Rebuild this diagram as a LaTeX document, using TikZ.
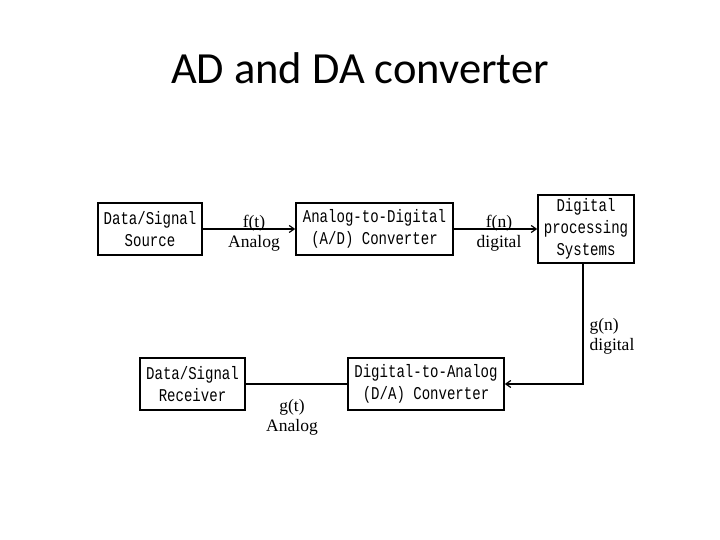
\documentclass[tikz,border=0pt]{standalone}
\usepackage{fontspec}
\setmainfont{Liberation Serif}
\newfontfamily\titlefont{Carlito}
\newfontfamily\boxfont[FakeStretch=0.78]{Liberation Mono}
\usetikzlibrary{arrows.meta}
\begin{document}
\begin{tikzpicture}[x=1pt,y=-1pt,
  blk/.style={draw,line width=1.6pt,inner sep=0pt,font=\boxfont\fontsize{18}{22}\selectfont,align=center},
  lbl/.style={font=\fontsize{17.5}{20}\selectfont,align=center,inner sep=0pt},
  conn/.style={line width=1.2pt},
  arr/.style={conn,-{Straight Barb[length=5pt,width=7pt]}}]
\useasboundingbox (0,0) rectangle (720,540);
\node[font=\titlefont\fontsize{44.5}{48}\selectfont] (title) at (360,68) {AD and DA converter};
\node[blk,minimum width=104pt,minimum height=52pt] (src) at (150,229) {Data/Signal\\Source};
\node[blk,minimum width=157pt,minimum height=52pt] (ad) at (374.5,229) {Analog-to-Digital\\(A/D) Converter};
\node[blk,minimum width=96pt,minimum height=68pt] (dps) at (586,229) {Digital\\processing\\Systems};
\node[blk,minimum width=156pt,minimum height=52pt] (da) at (426,384) {Digital-to-Analog\\(D/A) Converter};
\node[blk,minimum width=105pt,minimum height=52pt] (rcv) at (192.5,384) {Data/Signal\\Receiver};
\coordinate (corner) at (583,384);
\draw[arr] (src.east) -- (ad.west);
\draw[arr] (ad.east) -- (dps.west);
\draw[arr] (dps.south -| corner) -- (corner) -- (da.east);
\draw[conn] (da.west) -- (rcv.east);
\node[lbl] (l1) at (254,233) {f(t)\\Analog};
\node[lbl] (l2) at (499,233) {f(n)\\digital};
\node[lbl,align=left] (l3) at (612,336) {g(n)\\digital};
\node[lbl] (l4) at (292,417) {g(t)\\Analog};
\end{tikzpicture}
\end{document}
